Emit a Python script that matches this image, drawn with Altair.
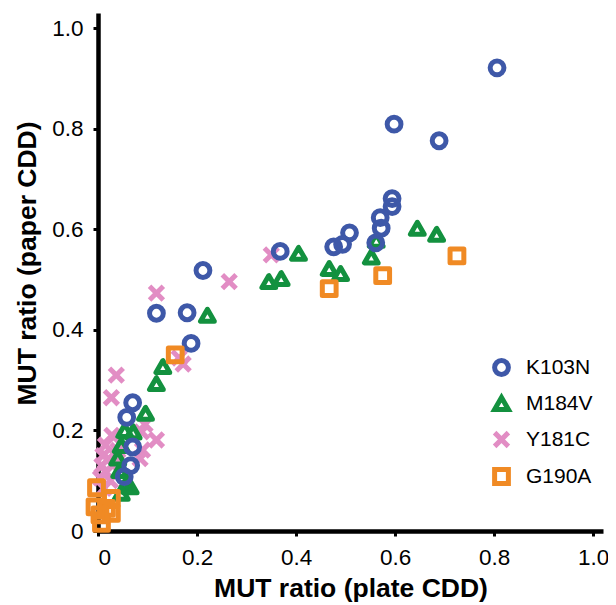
import altair as alt
import pandas as pd

# K103N (blue circles)
k103n_x = [0.806, 0.598, 0.689, 0.594, 0.594, 0.570, 0.572, 0.561, 0.508, 0.494, 0.476,
           0.368, 0.212, 0.118, 0.180, 0.188, 0.070, 0.058, 0.070, 0.066, 0.053]
k103n_y = [0.921, 0.809, 0.776, 0.661, 0.645, 0.623, 0.602, 0.573, 0.593, 0.570, 0.565,
           0.556, 0.518, 0.433, 0.434, 0.373, 0.255, 0.226, 0.167, 0.130, 0.108]

# M184V (green triangles)
m184v_x = [0.645, 0.684, 0.405, 0.467, 0.490, 0.552, 0.562, 0.345, 0.370, 0.221, 0.131,
           0.118, 0.096, 0.054, 0.071, 0.047, 0.040, 0.044, 0.058, 0.065, 0.047]
m184v_y = [0.602, 0.590, 0.552, 0.522, 0.512, 0.545, 0.578, 0.496, 0.502, 0.429, 0.327,
           0.293, 0.234, 0.200, 0.197, 0.170, 0.145, 0.120, 0.095, 0.088, 0.075]

# Y181C (pink crosses)
y181c_x = [0.350, 0.265, 0.118, 0.164, 0.172, 0.037, 0.027, 0.095, 0.118, 0.090, 0.088,
           0.015, 0.021, 0.015, 0.028, 0.085, 0.005, 0.010, 0.030, 0.040, 0.008, 0.025, 0.012]
y181c_y = [0.549, 0.496, 0.473, 0.344, 0.332, 0.310, 0.265, 0.212, 0.181, 0.161, 0.197,
           0.171, 0.144, 0.118, 0.190, 0.144, 0.105, 0.150, 0.130, 0.160, 0.130, 0.100, 0.085]

# G190A (orange squares)
g190a_x = [0.725, 0.575, 0.467, 0.156, -0.003, -0.006, 0.027, 0.027, 0.007, 0.017, 0.004]
g190a_y = [0.547, 0.508, 0.482, 0.350, 0.086, 0.048, 0.065, 0.035, 0.015, 0.045, 0.032]

series = ["K103N", "M184V", "Y181C", "G190A"]
colors = ["#3E58A8", "#13913F", "#E28DC4", "#F08A24"]
shapes = ["circle", "triangle-up", "M-1,-1L1,1M-1,1L1,-1", "square"]
ticks = [0, 0.2, 0.4, 0.6, 0.8, 1.0]

rows = []
# drawing order: pink, green, blue, orange
for name, xs, ys in [("Y181C", y181c_x, y181c_y), ("M184V", m184v_x, m184v_y),
                     ("K103N", k103n_x, k103n_y), ("G190A", g190a_x, g190a_y)]:
    for a, b in zip(xs, ys):
        rows.append({"plate": a, "paper": b, "mutation": name})
df = pd.DataFrame(rows)

FONT = "Liberation Sans"
label_expr = "datum.value == 0 ? '0' : format(datum.value, '.1f')"

chart = alt.Chart(df).mark_point(
    filled=False, strokeWidth=5, size=190, opacity=1, strokeJoin="round"
).encode(
    x=alt.X("plate:Q", scale=alt.Scale(domain=[0, 1.02], nice=False, zero=False),
            axis=alt.Axis(title="MUT ratio (plate CDD)", values=ticks, labelExpr=label_expr,
                          titlePadding=7)),
    y=alt.Y("paper:Q", scale=alt.Scale(domain=[0, 1.03], nice=False, zero=False),
            axis=alt.Axis(title="MUT ratio (paper CDD)", values=ticks, labelExpr=label_expr,
                          titlePadding=10, titleY=250)),
    color=alt.Color("mutation:N", scale=alt.Scale(domain=series, range=colors),
                    legend=alt.Legend(title=None, orient="none", legendX=393, legendY=344,
                                      symbolSize=190, symbolStrokeWidth=5,
                                      labelFontSize=21, labelFont=FONT, labelColor="black",
                                      rowPadding=2, labelOffset=14)),
    shape=alt.Shape("mutation:N", scale=alt.Scale(domain=series, range=shapes), legend=None),
).properties(
    width=505, height=518,
    autosize=alt.AutoSizeParams(type="none"),
    padding={"left": 90, "top": 5, "right": 5, "bottom": 80},
).configure_view(stroke=None).configure_axis(
    grid=False, domainColor="black", domainWidth=4.5, tickColor="black", tickWidth=3,
    tickSize=5, labelFont=FONT, labelFontSize=22.5, labelColor="black", labelPadding=10,
    titleFont=FONT, titleFontSize=26.5, titleFontWeight="bold", titleColor="black",
)

chart.save("out.html", embed_options={"renderer": "svg", "actions": False})
